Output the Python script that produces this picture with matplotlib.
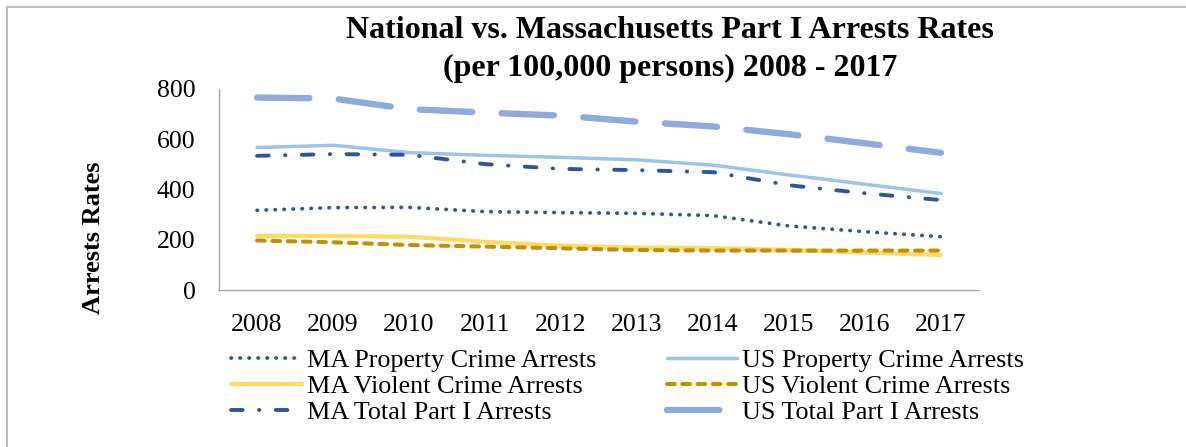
import matplotlib.pyplot as plt
from matplotlib.lines import Line2D

plt.rcParams['font.family'] = ['Liberation Serif', 'DejaVu Serif']

# arrest rates per 100,000 persons
years = ['2008', '2009', '2010', '2011', '2012', '2013', '2014', '2015', '2016', '2017']
ma_property = [317, 328, 329, 312, 308, 305, 296, 255, 232, 212]
us_property = [567, 576, 547, 536, 528, 518, 497, 458, 421, 384]
ma_violent = [215, 215, 212, 192, 176, 169, 167, 159, 149, 139]
us_violent = [197, 190, 179, 173, 166, 159, 157, 157, 157, 157]
ma_total = [534, 541, 538, 501, 482, 477, 469, 417, 385, 358]
us_total = [766, 762, 720, 706, 694, 670, 651, 620, 584, 546]

y_ticks = [0, 200, 400, 600, 800]

fig = plt.figure(figsize=(11.86, 4.47), dpi=100)
ax = fig.add_axes([0.1847, 0.3512, 0.6408, 0.4497])

x = range(len(years))

l1, = ax.plot(x, ma_property, color='#2f5597', lw=2.7, dashes=(0.1, 2.3),
              dash_capstyle='round', label='MA Property Crime Arrests')
l2, = ax.plot(x, us_property, color='#9dc3e6', lw=2.5,
              solid_capstyle='round', label='US Property Crime Arrests')
l3, = ax.plot(x, ma_violent, color='#ffd966', lw=3.0,
              solid_capstyle='round', label='MA Violent Crime Arrests')
l4, = ax.plot(x, us_violent, color='#bf9000', lw=2.9, dashes=(1.9, 1.9),
              dash_capstyle='round', label='US Violent Crime Arrests')
l5, = ax.plot(x, ma_total, color='#2f5597', lw=2.8, dashes=(3.0, 4.2, 0.1, 4.2),
              dash_capstyle='round', label='MA Total Part I Arrests')
l6, = ax.plot(x, us_total, color='#8faadc', lw=4.6, dashes=(8.2, 4.6),
              dash_capstyle='round', label='US Total Part I Arrests')

ax.set_xlim(-0.5, len(years) - 0.5)
ax.set_ylim(0, 800)
ax.set_xticks(list(x))
ax.set_xticklabels(years)
ax.set_yticks(y_ticks)
ax.tick_params(axis='both', length=0, labelsize=18.5)
ax.tick_params(axis='x', pad=17)
ax.tick_params(axis='y', pad=17)
for s in ['top', 'right']:
    ax.spines[s].set_visible(False)
for s in ['left', 'bottom']:
    ax.spines[s].set_color('#a6a6a6')
    ax.spines[s].set_linewidth(1)

fig.text(670 / 1186, 1 - 31 / 447, 'National vs. Massachusetts Part I Arrests Rates',
         ha='center', va='center', fontsize=23, fontweight='bold')
fig.text(670 / 1186, 1 - 68 / 447, '(per 100,000 persons) 2008 - 2017',
         ha='center', va='center', fontsize=23, fontweight='bold')
fig.text(93 / 1186, 1 - 238 / 447, 'Arrests Rates', rotation=90,
         ha='center', va='center', fontsize=19, fontweight='bold')

# legend: column-major order so rows read MA / US pairs
fig.legend(handles=[l1, l3, l5, l2, l4, l6], ncol=2, frameon=False,
           loc='upper left', bbox_to_anchor=(218 / 1186, 1 - 336 / 447),
           fontsize=18.8, handlelength=2.7, handletextpad=0.2,
           columnspacing=2.7, labelspacing=0.1, borderpad=0)

# light frame around the chart area (left and top edges visible)
fig.add_artist(Line2D([7 / 1186, 7 / 1186], [0, 1 - 7 / 447],
                      transform=fig.transFigure, color='#bfbfbf', lw=1.5))
fig.add_artist(Line2D([7 / 1186, 1], [1 - 7 / 447, 1 - 7 / 447],
                      transform=fig.transFigure, color='#bfbfbf', lw=1.5))

fig.savefig('out.png', dpi=100)
